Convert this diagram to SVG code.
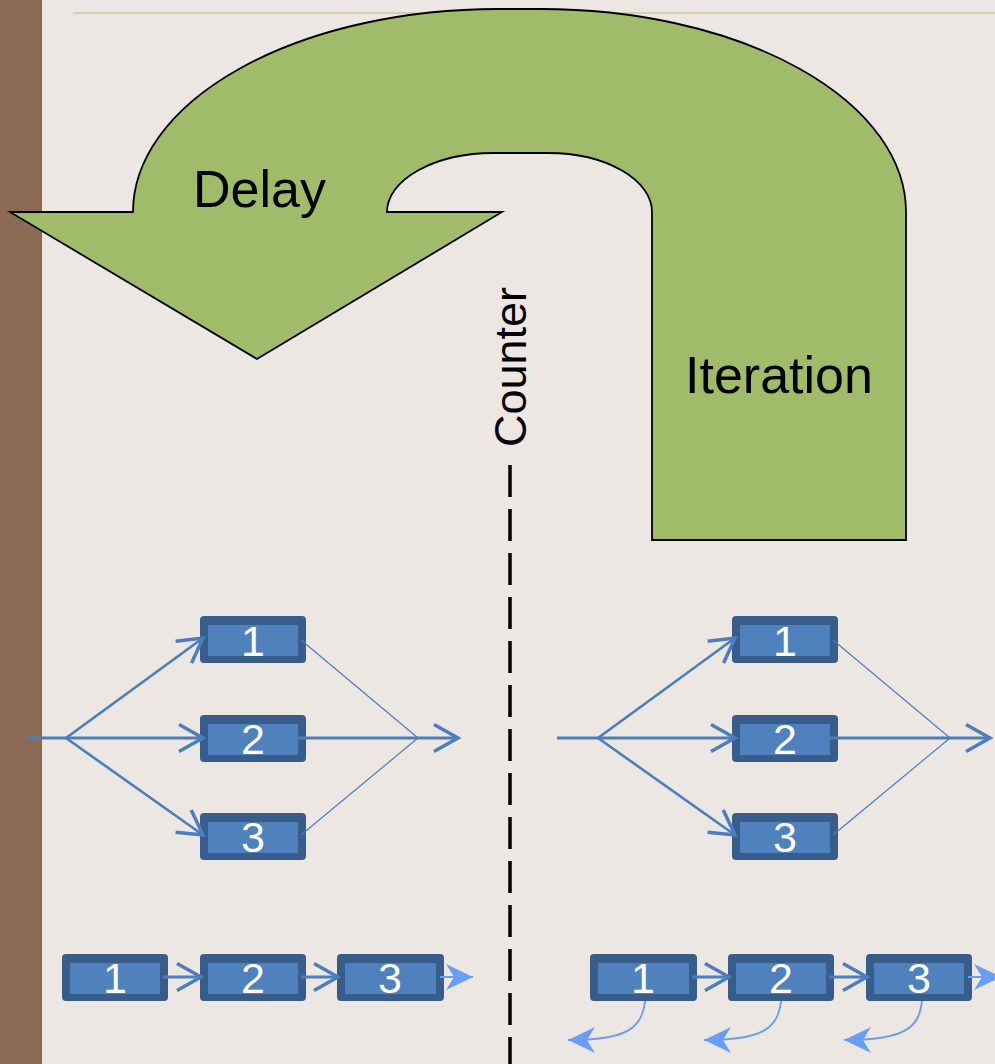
<svg xmlns="http://www.w3.org/2000/svg" width="995" height="1064" viewBox="0 0 995 1064">
<style>
.lbl{font-family:"Liberation Sans",Arial,sans-serif;fill:#000}
.num{font-family:"Liberation Sans",Arial,sans-serif;fill:#fff;font-size:43px;text-anchor:middle}
.bo{fill:#385D8A}
.bi{fill:#4F81BD}
.c{stroke:#4A7EBE;fill:none}
.thick{stroke-width:3}
.mid{stroke-width:2.6}
.thin{stroke-width:1.2}
.lb{stroke:#6A9DF5;fill:none;stroke-width:2}
</style>
<defs>
<marker id="chev" markerUnits="userSpaceOnUse" markerWidth="40" markerHeight="40" viewBox="-30 -20 40 40" refX="0" refY="0" orient="auto" overflow="visible">
<path d="M-24,-13.5 L0,0 L-24,13.5" fill="none" stroke="#4A7EBE" stroke-width="3.5"/>
</marker>
<marker id="stealth" markerUnits="userSpaceOnUse" markerWidth="40" markerHeight="40" viewBox="-30 -20 40 40" refX="0" refY="0" orient="auto" overflow="visible">
<path d="M0,0 L-27,-13 L-19,0 L-27,13 Z" fill="#6A9DF5"/>
</marker>
</defs>
<rect width="995" height="1064" fill="#ECE7E3"/>
<rect x="0" y="0" width="42" height="1064" fill="#8D6A56"/>
<line x1="73" y1="13" x2="995" y2="13" stroke="#D7D0B0" stroke-width="2"/>

<g id="uturn">
<path d="M906,540 L906,212 A365,203 0 0 0 541,9 L498,9 A365,203 0 0 0 133,212 L10,212 L257,359 L502,212 L387,212 A107,59 0 0 1 494,153 L548,153 A104,59 0 0 1 652,212 L652,540 Z" fill="#A0BC6A" stroke="#000" stroke-width="1.8" stroke-linejoin="miter"/>
<text class="lbl" x="193" y="207" font-size="52">Delay</text>
<text class="lbl" x="685" y="393" font-size="52">Iteration</text>
</g>

<g id="counter">
<line x1="510" y1="465" x2="510" y2="1064" stroke="#000" stroke-width="3.5" stroke-dasharray="32 12"/>
<text class="lbl" transform="translate(526,447) rotate(-90)" font-size="45">Counter</text>
</g>

<g id="par-left-1"><rect class="bo" x="200" y="616" width="106" height="47" rx="4"/><rect class="bi" x="208" y="625" width="90" height="31"/><text class="num" x="253" y="656">1</text></g>
<g id="par-left-2"><rect class="bo" x="200" y="715" width="106" height="47" rx="4"/><rect class="bi" x="208" y="724" width="90" height="31"/><text class="num" x="253" y="754">2</text></g>
<g id="par-left-3"><rect class="bo" x="200" y="813" width="106" height="47" rx="4"/><rect class="bi" x="208" y="822" width="90" height="31"/><text class="num" x="253" y="852">3</text></g>

<g id="par-right-1"><rect class="bo" x="732" y="616" width="106" height="47" rx="4"/><rect class="bi" x="740" y="625" width="90" height="31"/><text class="num" x="785" y="656">1</text></g>
<g id="par-right-2"><rect class="bo" x="732" y="715" width="106" height="47" rx="4"/><rect class="bi" x="740" y="724" width="90" height="31"/><text class="num" x="785" y="754">2</text></g>
<g id="par-right-3"><rect class="bo" x="732" y="813" width="106" height="47" rx="4"/><rect class="bi" x="740" y="822" width="90" height="31"/><text class="num" x="785" y="852">3</text></g>

<g id="seq-left-1"><rect class="bo" x="62" y="954" width="106" height="47" rx="4"/><rect class="bi" x="70" y="963" width="90" height="31"/><text class="num" x="115" y="993">1</text></g>
<g id="seq-left-2"><rect class="bo" x="200" y="954" width="106" height="47" rx="4"/><rect class="bi" x="208" y="963" width="90" height="31"/><text class="num" x="253" y="993">2</text></g>
<g id="seq-left-3"><rect class="bo" x="337" y="954" width="107" height="47" rx="4"/><rect class="bi" x="345" y="963" width="91" height="31"/><text class="num" x="390" y="993">3</text></g>

<g id="seq-right-1"><rect class="bo" x="590" y="954" width="107" height="47" rx="4"/><rect class="bi" x="598" y="963" width="91" height="31"/><text class="num" x="643" y="993">1</text></g>
<g id="seq-right-2"><rect class="bo" x="728" y="954" width="106" height="47" rx="4"/><rect class="bi" x="736" y="963" width="90" height="31"/><text class="num" x="781" y="993">2</text></g>
<g id="seq-right-3"><rect class="bo" x="866" y="954" width="106" height="47" rx="4"/><rect class="bi" x="874" y="963" width="90" height="31"/><text class="num" x="919" y="993">3</text></g>

<g id="connectors">
<line class="c thick" x1="27" y1="738" x2="66" y2="738"/>
<line class="c mid" x1="66" y1="738" x2="203" y2="638" marker-end="url(#chev)"/>
<line class="c thick" x1="66" y1="738" x2="203" y2="738" marker-end="url(#chev)"/>
<line class="c mid" x1="66" y1="738" x2="203" y2="835" marker-end="url(#chev)"/>
<line class="c thin" x1="301" y1="640" x2="418" y2="738"/>
<line class="c thin" x1="301" y1="835" x2="418" y2="738"/>
<line class="c thick" x1="298" y1="738" x2="458" y2="738" marker-end="url(#chev)"/>
<line class="c thick" x1="557" y1="738" x2="598" y2="738"/>
<line class="c mid" x1="598" y1="738" x2="735" y2="638" marker-end="url(#chev)"/>
<line class="c thick" x1="598" y1="738" x2="735" y2="738" marker-end="url(#chev)"/>
<line class="c mid" x1="598" y1="738" x2="735" y2="835" marker-end="url(#chev)"/>
<line class="c thin" x1="833" y1="640" x2="950" y2="738"/>
<line class="c thin" x1="833" y1="835" x2="950" y2="738"/>
<line class="c thick" x1="830" y1="738" x2="990" y2="738" marker-end="url(#chev)"/>
<line class="c thick" x1="163" y1="977" x2="201" y2="977" marker-end="url(#chev)"/>
<line class="c thick" x1="301" y1="977" x2="338" y2="977" marker-end="url(#chev)"/>
<line class="lb" x1="440" y1="977" x2="473" y2="977" stroke-width="3" marker-end="url(#stealth)"/>
<line class="c thick" x1="692" y1="977" x2="729" y2="977" marker-end="url(#chev)"/>
<line class="c thick" x1="829" y1="977" x2="867" y2="977" marker-end="url(#chev)"/>
<line class="lb" x1="968" y1="977" x2="1001" y2="977" stroke-width="3" marker-end="url(#stealth)"/>
<path class="lb" d="M645,1001 C642,1028 628,1040 568,1040" marker-end="url(#stealth)"/>
<path class="lb" d="M781,1001 C778,1028 764,1040 704,1040" marker-end="url(#stealth)"/>
<path class="lb" d="M922,1001 C919,1028 905,1040 844,1040" marker-end="url(#stealth)"/>
</g>
</svg>
